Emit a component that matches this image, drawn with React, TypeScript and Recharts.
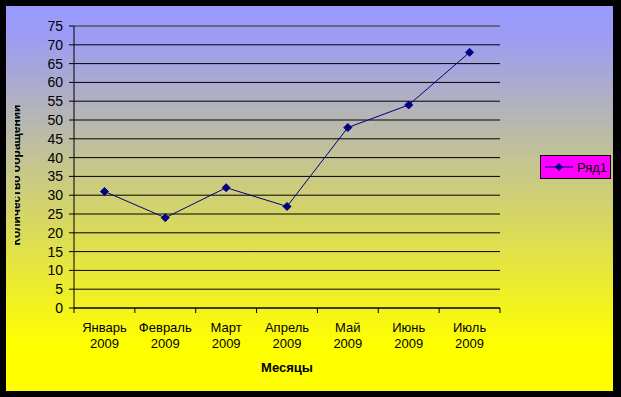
import { CartesianGrid, Line, LineChart, ReferenceLine, XAxis, YAxis } from 'recharts';

const MONTHS = ['Январь', 'Февраль', 'Март', 'Апрель', 'Май', 'Июнь', 'Июль'];
const YEARS = ['2009', '2009', '2009', '2009', '2009', '2009', '2009'];
const REQUESTS = [31, 24, 32, 27, 48, 54, 68];
const Y_TICKS = [0, 5, 10, 15, 20, 25, 30, 35, 40, 45, 50, 55, 60, 65, 70, 75];

const SERIES_NAME = 'Ряд1';
const LINE_COLOR = '#000080';
const FONT = '"Liberation Sans", Arial, sans-serif';

const CHART_W = 607;
const CHART_H = 385;
const MARGIN = { top: 20, right: 113, bottom: 0, left: 0 };
const Y_AXIS_W = 68;
const X_AXIS_H = 83;
const TICK = 5;
const BAND = (CHART_W - MARGIN.left - MARGIN.right - Y_AXIS_W) / MONTHS.length;

const data = MONTHS.map((month, i) => ({ month, year: YEARS[i], value: REQUESTS[i] }));

function Diamond({ cx, cy }: { cx?: number; cy?: number }) {
  if (cx == null || cy == null) return null;
  const r = 4;
  return (
    <polygon
      points={`${cx},${cy - r} ${cx + r},${cy} ${cx},${cy + r} ${cx - r},${cy}`}
      fill={LINE_COLOR}
      stroke={LINE_COLOR}
    />
  );
}

function MonthTick({ x, y, payload, index }: any) {
  const axisY = y - TICK;
  const last = index === MONTHS.length - 1;
  return (
    <g>
      <line x1={x - BAND / 2} x2={x - BAND / 2} y1={axisY} y2={axisY + TICK} stroke="#000" />
      {last && <line x1={x + BAND / 2} x2={x + BAND / 2} y1={axisY} y2={axisY + TICK} stroke="#000" />}
      <text x={x} y={axisY + 24} textAnchor="middle" fontSize={13} fontFamily={FONT} fill="#000">
        {payload.value}
      </text>
      <text x={x} y={axisY + 40} textAnchor="middle" fontSize={13} fontFamily={FONT} fill="#000">
        {data[index]?.year}
      </text>
    </g>
  );
}

export default function App() {
  return (
    <div style={{ width: 621, height: 397, background: '#000', position: 'relative' }}>
      <style>{'body{margin:0}'}</style>
      <div
        style={{
          position: 'absolute',
          left: 6,
          top: 6,
          width: CHART_W,
          height: CHART_H,
          overflow: 'hidden',
          background: 'linear-gradient(to bottom, #9999ff 0%, #9c9cf4 8%, #ffff00 88%, #ffff00 100%)',
        }}
      >
        <LineChart width={CHART_W} height={CHART_H} data={data} margin={MARGIN}>
          <defs>
            <clipPath id="ytitle-clip">
              <rect x={9} y={0} width={40} height={CHART_H} />
            </clipPath>
          </defs>
          <CartesianGrid vertical={false} stroke="#000" strokeOpacity={1} />
          <XAxis
            dataKey="month"
            height={X_AXIS_H}
            stroke="#000"
            padding={{ left: BAND / 2, right: BAND / 2 }}
            tickLine={false}
            tickSize={TICK}
            tickMargin={0}
            interval={0}
            tick={<MonthTick />}
            label={{
              content: ({ viewBox }: any) => (
                <text
                  x={viewBox.x + viewBox.width / 2}
                  y={viewBox.y + 64}
                  textAnchor="middle"
                  fontSize={13}
                  fontWeight="bold"
                  fontFamily={FONT}
                  fill="#000"
                >
                  Месяцы
                </text>
              ),
            }}
          />
          <YAxis
            width={Y_AXIS_W}
            domain={[0, 75]}
            ticks={Y_TICKS}
            interval={0}
            stroke="#000"
            tickSize={TICK}
            tickMargin={6}
            tick={{ fill: '#000', fontSize: 14, fontFamily: FONT }}
            label={{
              content: ({ viewBox }: any) => {
                const cx = viewBox.x + 14;
                const cy = viewBox.y + viewBox.height / 2 + 8;
                return (
                  <g clipPath="url(#ytitle-clip)">
                    <text
                      x={cx}
                      y={cy}
                      transform={`rotate(-90 ${cx} ${cy})`}
                      textAnchor="middle"
                      fontSize={12}
                      fontWeight="bold"
                      fontFamily={FONT}
                      fill="#000"
                    >
                      Количество обращений
                    </text>
                  </g>
                );
              },
            }}
          />
          <YAxis
            yAxisId="frame"
            orientation="right"
            width={0}
            domain={[0, 75]}
            tick={false}
            tickLine={false}
            stroke="#808080"
          />
          <ReferenceLine y={75} stroke="#808080" />
          <Line
            type="linear"
            dataKey="value"
            name={SERIES_NAME}
            stroke={LINE_COLOR}
            strokeWidth={1}
            dot={<Diamond />}
            activeDot={false}
            isAnimationActive={false}
          />
        </LineChart>
      </div>
      <div
        style={{
          position: 'absolute',
          left: 540,
          top: 155,
          width: 69,
          height: 22,
          background: '#ff00ff',
          border: '1px solid #000',
          display: 'flex',
          alignItems: 'center',
          fontFamily: FONT,
          fontSize: 13,
          color: '#000',
        }}
      >
        <svg width={32} height={10} style={{ marginLeft: 4 }}>
          <line x1={0} x2={28} y1={5} y2={5} stroke={LINE_COLOR} />
          <polygon points="14,1 18,5 14,9 10,5" fill={LINE_COLOR} />
        </svg>
        <span>{SERIES_NAME}</span>
      </div>
    </div>
  );
}
